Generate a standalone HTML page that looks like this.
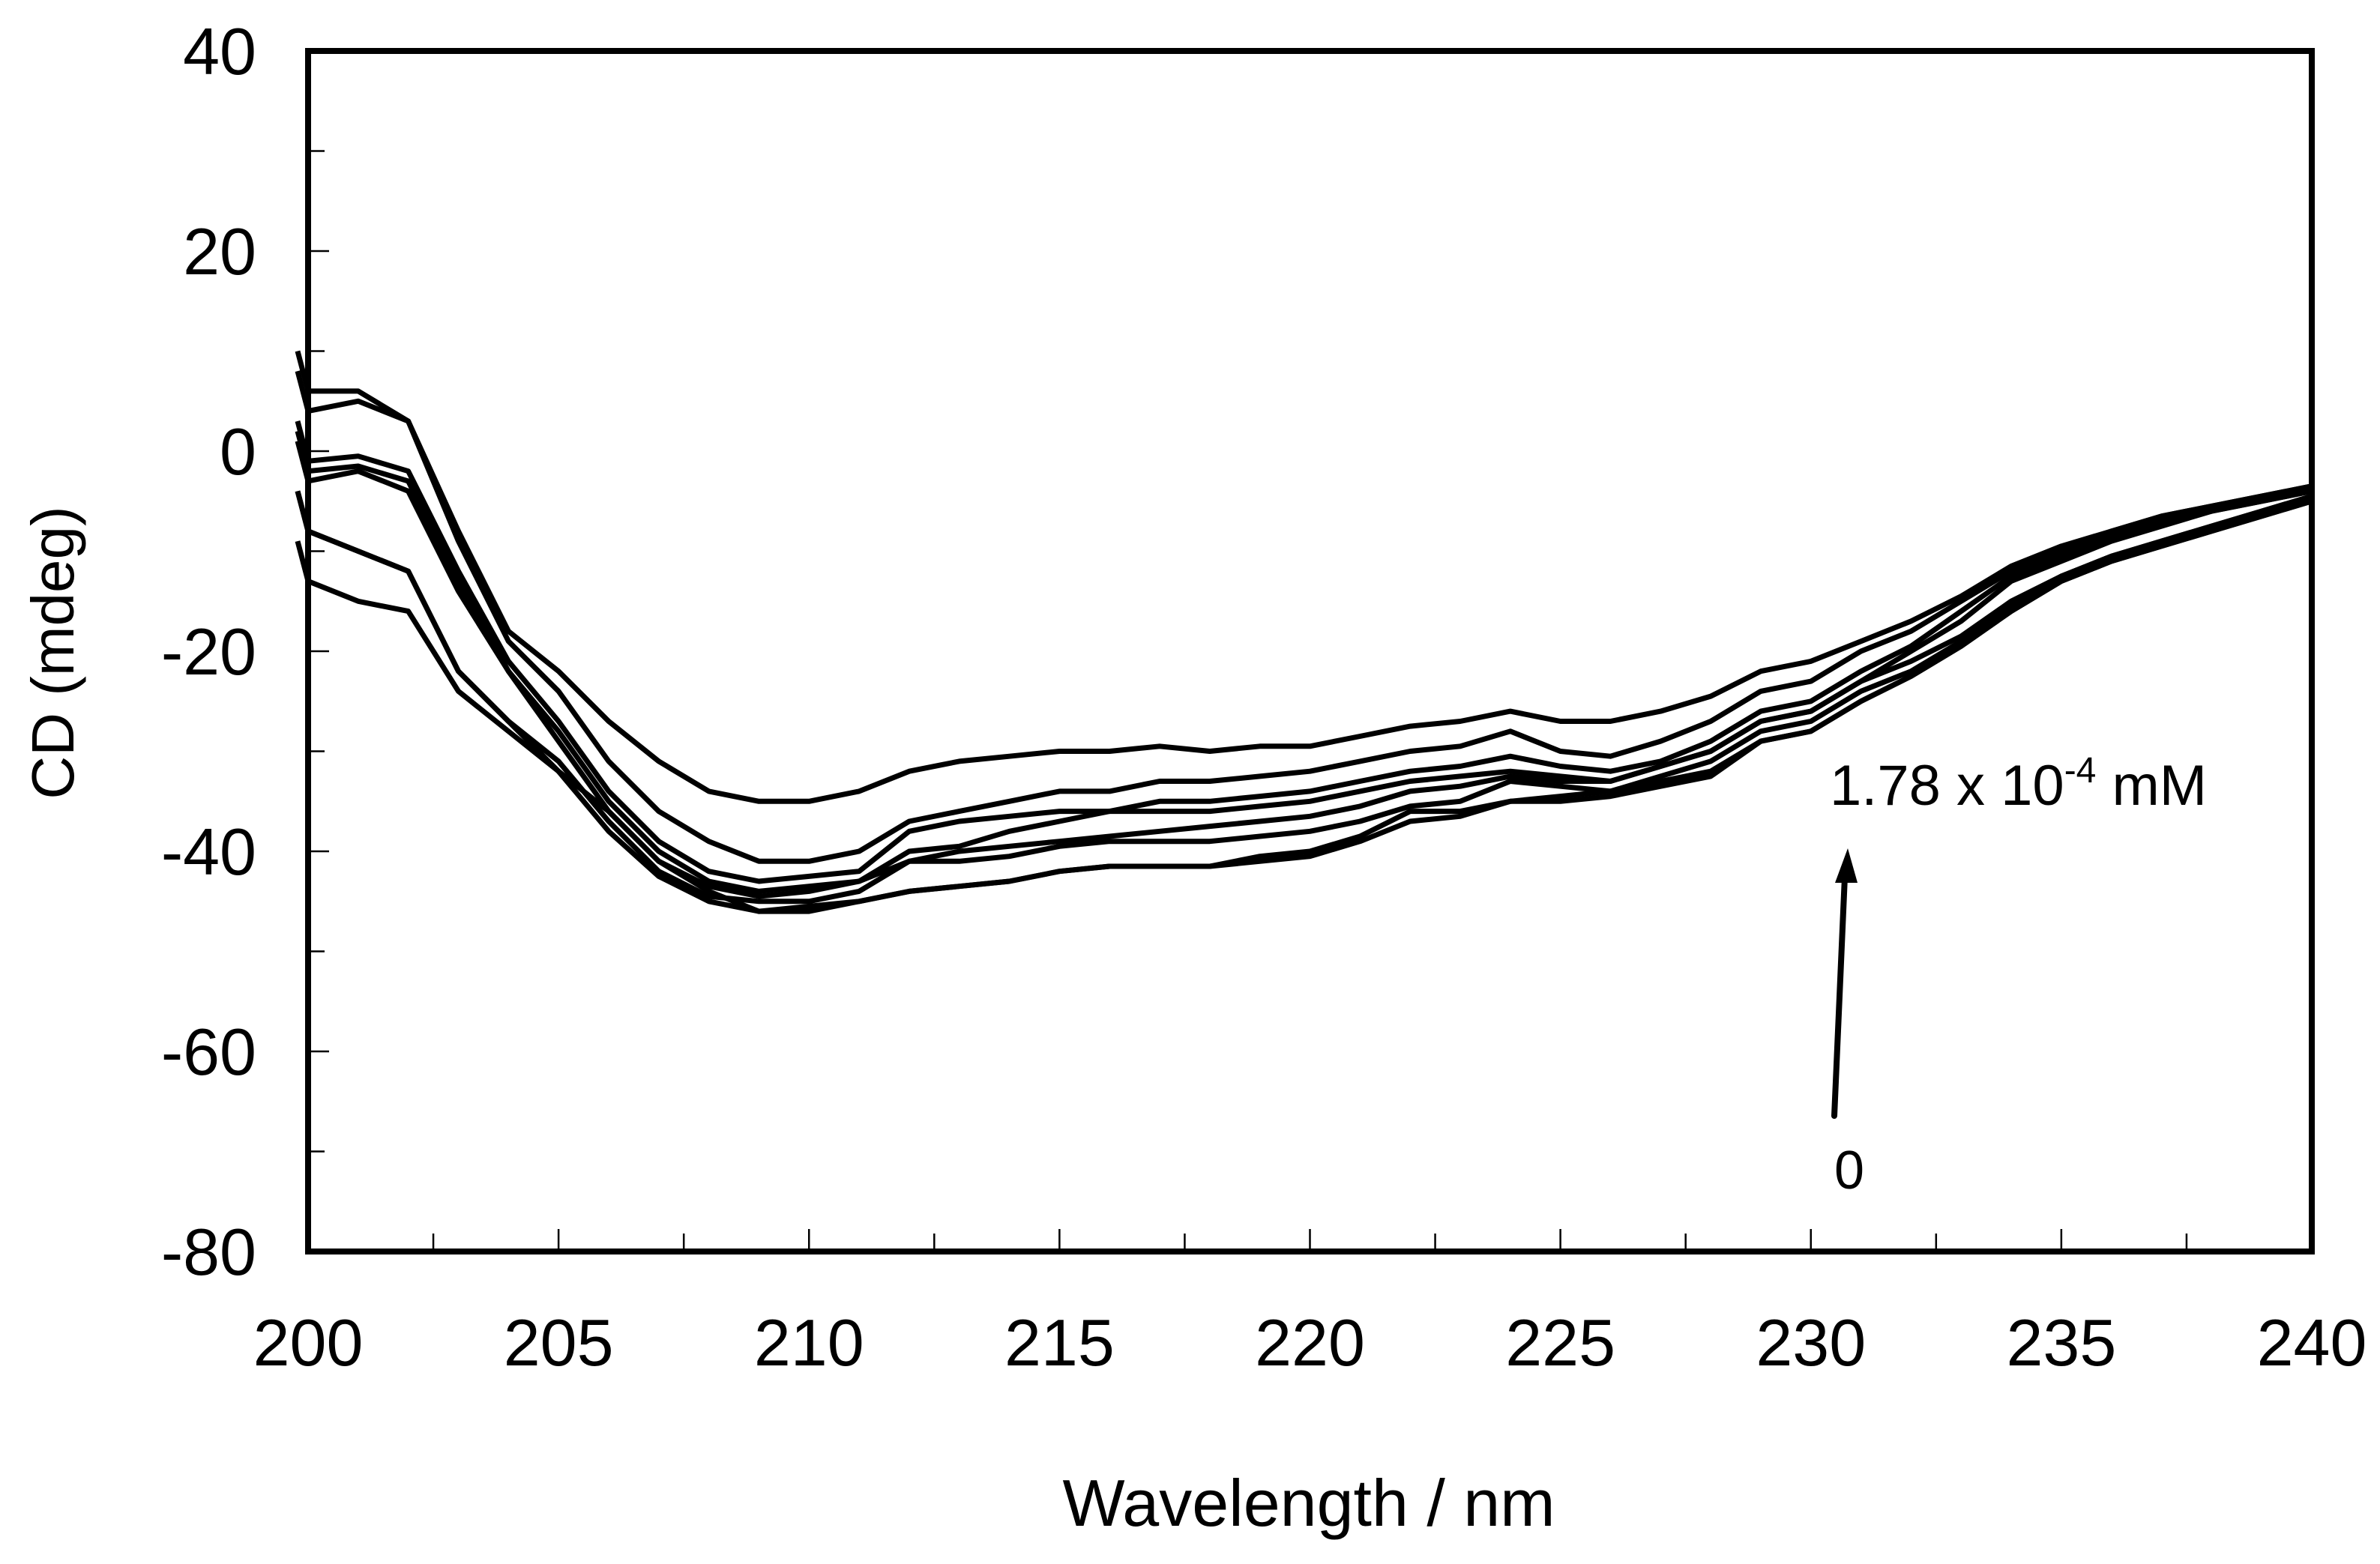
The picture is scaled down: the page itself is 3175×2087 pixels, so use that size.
<!DOCTYPE html>
<html><head><meta charset="utf-8"><style>
html,body{margin:0;padding:0;background:#fff;}
svg{display:block;}
text{font-family:"Liberation Sans",sans-serif;fill:#000;}
</style></head><body>
<svg id="chart" width="3175" height="2087" viewBox="0 0 3175 2087" xmlns="http://www.w3.org/2000/svg">
<g id="plot"></g>
</svg>
<script>
const wavelengths=[200,201,202,203,204,205,206,207,208,209,210,211,212,213,214,215,216,217,218,219,220,221,222,223,224,225,226,227,228,229,230,231,232,233,234,235,236,237,238,239,240];
const seriesA=[6,6,3,-8,-18,-22,-27,-31,-34,-35,-35,-34,-32,-31,-30.5,-30,-30,-29.5,-30,-29.5,-29.5,-28.5,-27.5,-27,-26,-27,-27,-26,-24.5,-22,-21,-19,-17,-14.5,-11.5,-9.5,-8,-6.5,-5.5,-4.5,-3.5];
const seriesB=[4,5,3,-9,-19,-24,-31,-36,-39,-41,-41,-40,-37,-36,-35,-34,-34,-33,-33,-32.5,-32,-31,-30,-29.5,-28,-30,-30.5,-29,-27,-24,-23,-20,-18,-15,-12,-10,-8,-6.5,-5.5,-4.5,-3.5];
const seriesC=[-1,-0.5,-2,-12,-21,-27,-34,-39,-42,-43,-42.5,-42,-38,-37,-36.5,-36,-36,-35,-35,-34.5,-34,-33,-32,-31.5,-30.5,-31.5,-32,-31,-29,-26,-25,-22,-19.5,-16,-12.5,-10.5,-8.5,-7,-6,-5,-4];
const seriesD=[-2,-1.5,-3,-13,-22,-28,-35,-40,-43,-44,-43.5,-43,-40,-39.5,-38,-37,-36,-36,-36,-35.5,-35,-34,-33,-32.5,-32,-32.5,-33,-31.5,-30,-27,-26,-23,-20,-17,-13,-11,-9,-7.5,-6,-5,-4];
const seriesE=[-3,-2,-4,-14,-22,-29,-36,-41,-43.5,-44.5,-44,-43,-41,-41,-40.5,-39.5,-39,-39,-39,-38.5,-38,-37,-35.5,-35,-33,-33.5,-34,-32.5,-31,-28,-27,-24,-22,-19,-15.5,-12.5,-10.5,-9,-7.5,-6,-4.5];
const seriesF=[-8,-10,-12,-22,-27,-31,-37,-42,-44.5,-45,-45,-44,-41,-40,-39.5,-39,-38.5,-38,-37.5,-37,-36.5,-35.5,-34,-33.5,-32.5,-33,-33,-31.5,-30,-27,-26,-23,-21,-18.5,-15,-12.5,-10.5,-9,-7.5,-6,-4.5];
const seriesG=[-8,-10,-12,-22,-27,-32,-38,-42.5,-45,-46,-45.5,-45,-44,-43.5,-43,-42,-41.5,-41.5,-41.5,-41,-40.5,-39,-37,-36.5,-35,-35,-34.5,-33.5,-32.5,-29,-28,-25,-22.5,-19.5,-16,-13,-11,-9.5,-8,-6.5,-5];
const seriesH=[-13,-15,-16,-24,-28,-32,-36,-41,-44,-46,-46,-45,-44,-43.5,-43,-42,-41.5,-41.5,-41.5,-40.5,-40,-38.5,-36,-36,-35,-34.5,-34,-33,-32,-29,-28,-25,-22.5,-19.5,-16,-13,-11,-9.5,-8,-6.5,-5];
const yTickLabels=["40","20","0","-20","-40","-60","-80"];
const yTickValues=[40,20,0,-20,-40,-60,-80];
const xTickLabels=["200","205","210","215","220","225","230","235","240"];
const xTickValues=[200,205,210,215,220,225,230,235,240];

const NS="http://www.w3.org/2000/svg";
const L=411,R=3084,T=68,B=1670;
const xMin=200,xMax=240,yMin=-80,yMax=40;
function sx(v){return L+(v-xMin)/(xMax-xMin)*(R-L);}
function sy(v){return B-(v-yMin)/(yMax-yMin)*(B-T);}
const plot=document.getElementById('plot');
function mk(tag,attrs,parent){const e=document.createElementNS(NS,tag);for(const k in attrs)e.setAttribute(k,attrs[k]);(parent||plot).appendChild(e);return e;}

for(let v=yMin;v<=yMax;v+=10){
  const major=(v%20===0);
  const t=mk('line',{x1:L,x2:L+(major?28:22),y1:sy(v),y2:sy(v),stroke:'#000','stroke-width':2.5});
  
  
}
for(let v=xMin;v<=xMax;v+=2.5){
  const major=(v%5===0);
  const t=mk('line',{x1:sx(v),x2:sx(v),y1:B,y2:B-(major?30:24),stroke:'#000','stroke-width':2.5});
  
  
}
const allSeries=[seriesA,seriesB,seriesC,seriesD,seriesE,seriesF,seriesG,seriesH];
const names=['spectrum-a','spectrum-b','spectrum-c','spectrum-d','spectrum-e','spectrum-f','spectrum-g','spectrum-h'];
allSeries.forEach((s,i)=>{
  let d='M'+(L-14)+','+sy(s[0]+4);
  s.forEach((v,j)=>{d+=' L'+sx(wavelengths[j]).toFixed(1)+','+sy(v).toFixed(1);});
  const p=mk('path',{d:d,fill:'none',stroke:'#000','stroke-width':7,'stroke-linejoin':'round'});
  
  
});
const f=mk('rect',{x:L,y:T,width:R-L,height:B-T,fill:'none',stroke:'#000','stroke-width':8});


yTickValues.forEach((v,i)=>{
  const t=mk('text',{x:342,y:sy(v)+31,'text-anchor':'end','font-size':88});
  t.textContent=yTickLabels[i];
  
  
});
xTickValues.forEach((v,i)=>{
  const t=mk('text',{x:sx(v),y:1822,'text-anchor':'middle','font-size':88});
  t.textContent=xTickLabels[i];
  
  
});
</script>
<svg style="position:absolute;left:0;top:0" width="3175" height="2087">
<text x="1746" y="2036" text-anchor="middle" font-size="88">Wavelength / nm</text>
<text transform="translate(98,871) rotate(-90)" text-anchor="middle" font-size="80">CD (mdeg)</text>
<text x="2441" y="1074" font-size="76">1.78 x 10<tspan font-size="48" dy="-30">-4</tspan><tspan dy="30"> mM</tspan></text>
<text x="2467" y="1586" text-anchor="middle" font-size="72">0</text>
<line x1="2447" y1="1489" x2="2461" y2="1170" stroke="#000" stroke-width="8" stroke-linecap="round"/>
<polygon points="2465,1132 2448,1178 2478,1178" fill="#000"/>
</svg>
</body></html>
